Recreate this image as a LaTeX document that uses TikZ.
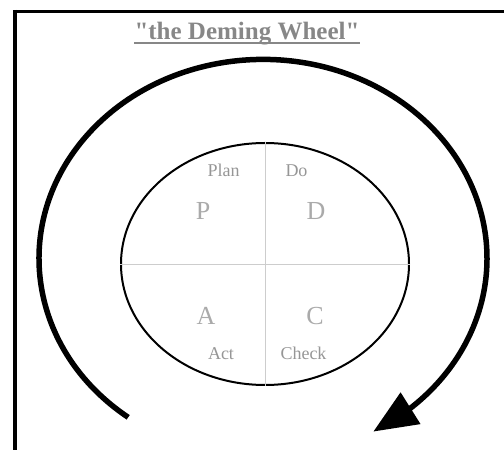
\documentclass[tikz,border=0pt]{standalone}
\usepackage{fontspec}
\setmainfont{Liberation Serif}
\newfontfamily\titlefont{Liberation Serif}[Ligatures=TeXOff]
\usetikzlibrary{shapes.geometric,arrows.meta,bending}
\definecolor{titlegray}{RGB}{135,135,135}
\definecolor{labelgray}{RGB}{150,150,150}
\definecolor{lettergray}{RGB}{170,170,170}
\definecolor{divgray}{RGB}{205,205,205}
\tikzset{
  frameline/.style={line width=3.2pt, black},
  bigarrow/.style={line width=5.5pt, black, -{Triangle[length=44pt,width=36pt]}},
  wheelshape/.style={ellipse, draw=black, line width=2pt, minimum width=288pt, minimum height=242pt, inner sep=0pt},
  divider/.style={draw=divgray, line width=0.7pt},
  wordlabel/.style={anchor=base, text=labelgray, font=\fontsize{18}{18}\selectfont, inner sep=0pt},
  letterlabel/.style={anchor=base, text=lettergray, font=\fontsize{26}{26}\selectfont, inner sep=0pt},
  titlestyle/.style={anchor=base, text=titlegray, font=\titlefont\bfseries\fontsize{25}{25}\selectfont, inner sep=0pt}
}
\begin{document}
\begin{tikzpicture}[x=1pt,y=1pt]
\useasboundingbox (0,0) rectangle (504,450);
% frame
\coordinate (fr1) at (504,438.5);
\coordinate (fr2) at (13.4,438.5);
\coordinate (fr0) at (15,440.1);
\coordinate (fr3) at (15,0);
\draw[frameline] (fr1) -- (fr2);
\draw[frameline] (fr0) -- (fr3);
% title
\node[titlestyle] (title) at (247,410) {"the Deming Wheel"};
\draw[titlegray, line width=1.2pt] ([yshift=-3pt]title.base west) -- ([yshift=-3pt]title.base east);
% big arrow
\draw[bigarrow] (263,190) ++(233:224 and 197) arc[start angle=233, end angle=-60.5, x radius=224, y radius=199];
% wheel
\node[wheelshape] (wheel) at (265,186) {};
\draw[divider] (wheel.north) -- (wheel.south);
\draw[divider] (wheel.west) -- (wheel.east);
% labels
\node[wordlabel] (plan) at (223.5,273) {Plan};
\node[wordlabel] (do) at (296.5,273) {Do};
\node[letterlabel] (p) at (203,230) {P};
\node[letterlabel] (d) at (316,230) {D};
\node[letterlabel] (a) at (206,125) {A};
\node[letterlabel] (c) at (315,125) {C};
\node[wordlabel] (act) at (221,90) {Act};
\node[wordlabel] (check) at (303.5,90) {Check};
\end{tikzpicture}
\end{document}
